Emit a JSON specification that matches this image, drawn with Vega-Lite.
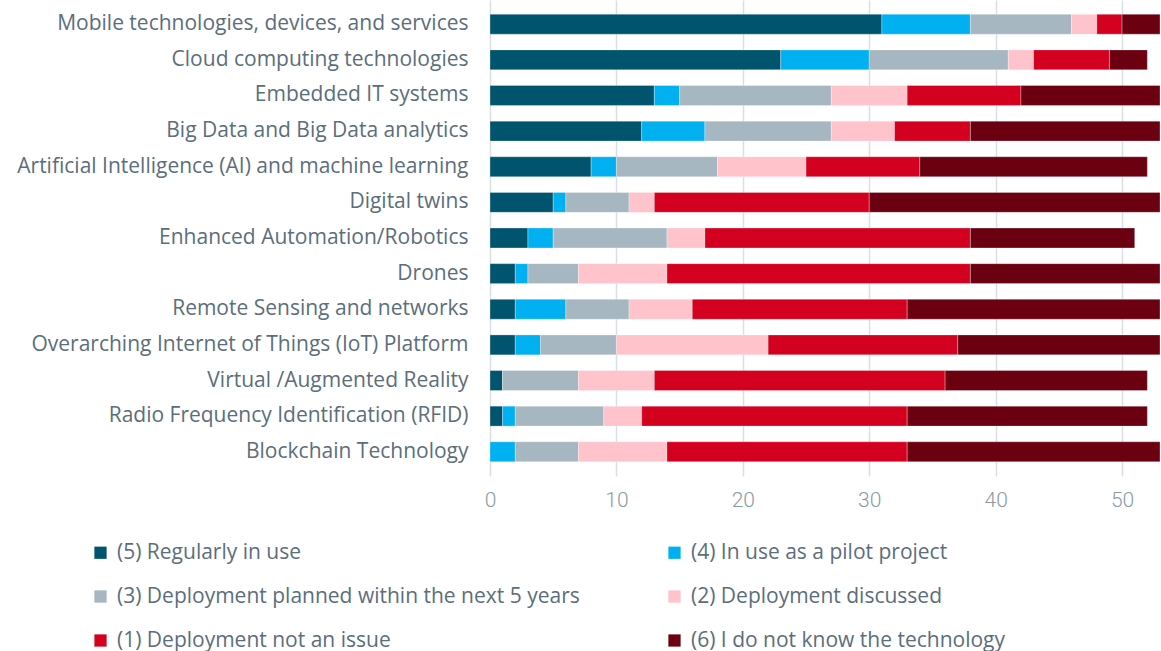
{
  "$schema": "https://vega.github.io/schema/vega-lite/v6.json",
  "autosize": {"type": "none"},
  "width": 670,
  "height": 476,
  "padding": {"left": 490, "top": 0, "right": 1, "bottom": 175},
  "background": "white",
  "config": {
    "font": "Open Sans",
    "view": {"stroke": null}
  },
  "datasets": {
    "rows": [
      {"tech": "Mobile technologies, devices, and services", "r": 1, "v5": 31, "v4": 7, "v3": 8, "v2": 2, "v1": 2, "v6": 3},
      {"tech": "Cloud computing technologies", "r": 2, "v5": 23, "v4": 7, "v3": 11, "v2": 2, "v1": 6, "v6": 3},
      {"tech": "Embedded IT systems", "r": 3, "v5": 13, "v4": 2, "v3": 12, "v2": 6, "v1": 9, "v6": 11},
      {"tech": "Big Data and Big Data analytics", "r": 4, "v5": 12, "v4": 5, "v3": 10, "v2": 5, "v1": 6, "v6": 15},
      {"tech": "Artificial Intelligence (AI) and machine learning", "r": 5, "v5": 8, "v4": 2, "v3": 8, "v2": 7, "v1": 9, "v6": 18},
      {"tech": "Digital twins", "r": 6, "v5": 5, "v4": 1, "v3": 5, "v2": 2, "v1": 17, "v6": 23},
      {"tech": "Enhanced Automation/Robotics", "r": 7, "v5": 3, "v4": 2, "v3": 9, "v2": 3, "v1": 21, "v6": 13},
      {"tech": "Drones", "r": 8, "v5": 2, "v4": 1, "v3": 4, "v2": 7, "v1": 24, "v6": 15},
      {"tech": "Remote Sensing and networks", "r": 9, "v5": 2, "v4": 4, "v3": 5, "v2": 5, "v1": 17, "v6": 20},
      {"tech": "Overarching Internet of Things (IoT) Platform", "r": 10, "v5": 2, "v4": 2, "v3": 6, "v2": 12, "v1": 15, "v6": 16},
      {"tech": "Virtual /Augmented Reality", "r": 11, "v5": 1, "v4": 0, "v3": 6, "v2": 6, "v1": 23, "v6": 16},
      {"tech": "Radio Frequency Identification (RFID)", "r": 12, "v5": 1, "v4": 1, "v3": 7, "v2": 3, "v1": 21, "v6": 19},
      {"tech": "Blockchain Technology", "r": 13, "v5": 0, "v4": 2, "v3": 5, "v2": 7, "v1": 19, "v6": 20}
    ]
  },
  "data": {"name": "rows"},
  "transform": [
    {"fold": ["v5", "v4", "v3", "v2", "v1", "v6"], "as": ["key", "value"]},
    {"lookup": "key", "from": {"data": {"values": [
      {"key": "v5", "status": "(5) Regularly in use", "o": 1},
      {"key": "v4", "status": "(4) In use as a pilot project", "o": 2},
      {"key": "v3", "status": "(3) Deployment planned within the next 5 years", "o": 3},
      {"key": "v2", "status": "(2) Deployment discussed", "o": 4},
      {"key": "v1", "status": "(1) Deployment not an issue", "o": 5},
      {"key": "v6", "status": "(6) I do not know the technology", "o": 6}
    ]}, "key": "key", "fields": ["status", "o"]}}
  ],
  "mark": {"type": "bar", "stroke": "white", "strokeWidth": 0.5, "strokeOpacity": 0.6},
  "encoding": {
    "y": {
      "field": "tech", "type": "nominal",
      "sort": {"field": "r", "op": "min"},
      "scale": {"paddingInner": 0.44, "paddingOuter": 0.4},
      "axis": {
        "title": null, "domain": false, "ticks": false,
        "labelFontSize": 21, "labelColor": "#5b6e7c", "labelPadding": 22,
        "labelLimit": 500, "labelFont": "Open Sans", "labelFontWeight": "normal"
      }
    },
    "x": {
      "field": "value", "type": "quantitative", "stack": "zero",
      "scale": {"domain": [0, 53], "nice": false},
      "axis": {
        "title": null, "domain": false, "ticks": false,
        "values": [0, 10, 20, 30, 40, 50], "labelFlush": false,
        "grid": true, "gridColor": "#d8dfe5", "gridWidth": 1.5,
        "labelFont": "Roboto", "labelFontWeight": 300,
        "labelFontSize": 21, "labelColor": "#8a9ba8", "labelPadding": 13
      }
    },
    "color": {
      "field": "status", "type": "nominal",
      "sort": ["(5) Regularly in use", "(4) In use as a pilot project", "(3) Deployment planned within the next 5 years", "(2) Deployment discussed", "(1) Deployment not an issue", "(6) I do not know the technology"],
      "scale": {
        "domain": ["(5) Regularly in use", "(4) In use as a pilot project", "(3) Deployment planned within the next 5 years", "(2) Deployment discussed", "(1) Deployment not an issue", "(6) I do not know the technology"],
        "range": ["#00546e", "#00b0f0", "#a6b7c1", "#ffc3cc", "#d4001f", "#6a0010"]
      },
      "legend": {
        "title": null, "orient": "none", "legendX": -400, "legendY": 542,
        "columns": 2, "direction": "horizontal",
        "symbolType": "square", "symbolSize": 150, "symbolStrokeWidth": 0,
        "labelFontSize": 21, "labelColor": "#5b6e7c", "labelFont": "Open Sans",
        "labelLimit": 600, "labelOffset": 6, "rowPadding": 22, "columnPadding": 84
      }
    },
    "order": {"field": "o", "type": "quantitative"}
  }
}
